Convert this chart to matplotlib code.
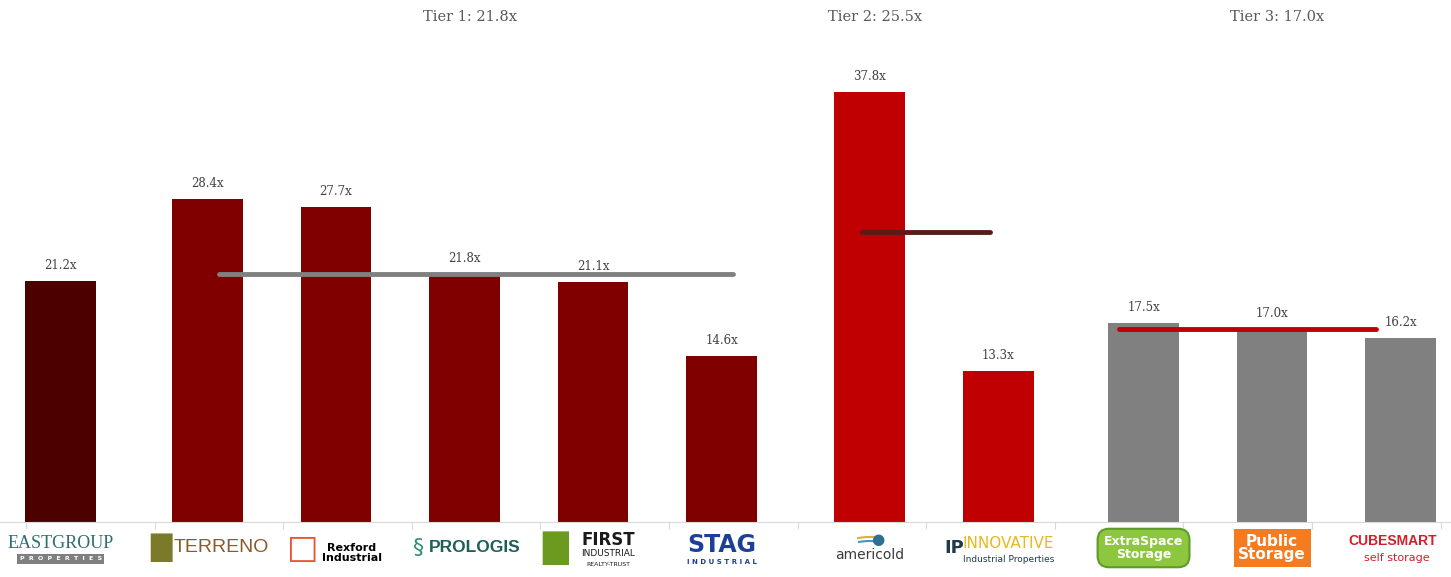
"""P/FFO multiples by peer tier, logos replaced by styled text."""

import matplotlib

matplotlib.use("Agg")
import matplotlib.pyplot as plt
import matplotlib.transforms as mtransforms
from matplotlib.patches import Arc

# --- data -------------------------------------------------------------
companies = [
    "EastGroup", "Terreno", "Rexford", "Prologis", "First Industrial", "STAG",
    "Americold", "Innovative", "Extra Space", "Public Storage", "CubeSmart",
]
multiples = [21.2, 28.4, 27.7, 21.8, 21.1, 14.6, 37.8, 13.3, 17.5, 17.0, 16.2]
# 0 = subject (EastGroup), 1..3 = peer tiers
tier_of = [0, 1, 1, 1, 1, 1, 2, 2, 3, 3, 3]
tier_names = ["Tier 1", "Tier 2", "Tier 3"]
tier_avgs = [21.8, 25.5, 17.0]

# --- style ------------------------------------------------------------
BAR_COLORS = {0: "#4d0000", 1: "#800000", 2: "#c00000", 3: "#808080"}
AVG_COLORS = {1: "#808080", 2: "#5a1a1a", 3: "#c00000"}
SERIES_OFFSET = {0: -0.23, 1: -0.09, 2: 0.06, 3: 0.19}
SERIF = "DejaVu Serif"

W, H = 1451, 577
fig = plt.figure(figsize=(W / 100, H / 100), dpi=100)
ax = fig.add_axes([0, 55 / H, 1, 522 / H])

cats = list(range(len(companies)))
xpos = [c + SERIES_OFFSET[t] for c, t in zip(cats, tier_of)]
bars = ax.bar(xpos, multiples, width=0.55, color=[BAR_COLORS[t] for t in tier_of], zorder=2)

for x, v in zip(xpos, multiples):
    ax.text(x, v + 0.75, f"{v:.1f}x", ha="center", va="bottom", fontsize=8.5,
            family=SERIF, color="#404040", zorder=4)

# tier average lines, from first to last category centre of each tier
for t, avg in zip([1, 2, 3], tier_avgs):
    members = [c for c, tt in zip(cats, tier_of) if tt == t]
    ax.plot([members[0], members[-1]], [avg, avg], color=AVG_COLORS[t], lw=3.5,
            solid_capstyle="round", zorder=3)

# tier headings, above the middle bar of each tier
for t, (name, avg) in enumerate(zip(tier_names, tier_avgs), start=1):
    members = [c for c, tt in zip(cats, tier_of) if tt == t]
    mid = members[(len(members) - 1) // 2]
    ax.text(xpos[mid] + 0.04, 1.0 - 17 / 522, f"{name}: {avg:.1f}x",
            transform=ax.get_xaxis_transform(), ha="center", va="center",
            fontsize=10.5, family=SERIF, color="#595959")

unit = 128.6
left = -0.5 - 26 / unit
ax.set_xlim(left, left + W / unit)
ax.set_ylim(0, 522 / 11.38)

for s in ["top", "right", "left"]:
    ax.spines[s].set_visible(False)
ax.spines["bottom"].set_color("#d9d9d9")
ax.set_yticks([])
ax.set_xticks([c - 0.5 for c in cats] + [cats[-1] + 0.5])
ax.tick_params(axis="x", length=5, color="#d9d9d9", labelbottom=False)

# --- logo stand-ins -------------------------------------------------------
trans = mtransforms.blended_transform_factory(ax.transData, ax.transAxes)
yl = -26 / 522
px = 1 / 522          # one pixel in axes-fraction units (vertical)
ux = 1 / unit         # one pixel in data units (horizontal)


def logo(i, text, dx=0.0, dy=0.0, **kw):
    opts = dict(ha="center", va="center", transform=trans, clip_on=False)
    opts.update(kw)
    ax.text(xpos[i] + dx * ux, yl + dy * px, text, **opts)


# EastGroup
logo(0, "EASTGROUP", dy=4, fontsize=13, color="#2e6e6e", family="Liberation Serif")
logo(0, "P  R  O  P  E  R  T  I  E  S", dy=-11, fontsize=4.5, color="white",
     fontweight="bold", bbox=dict(boxstyle="square,pad=0.35", fc="#7f7f7f", ec="none"))
# Terreno
logo(1, "█", dx=-46, fontsize=20, color="#7a7a2a")
logo(1, "TERRENO", dx=14, fontsize=14, color="#8a5a2b", family="Liberation Sans")
# Rexford
logo(2, "□", dx=-33, fontsize=24, color="#e8552f")
logo(2, "Rexford\nIndustrial", dx=16, dy=-5, fontsize=8, color="black", fontweight="bold",
     linespacing=1.0, ha="center")
# Prologis
logo(3, "§", dx=-46, fontsize=16, color="#2f8f6f")
logo(3, "PROLOGIS", dx=10, fontsize=12.5, color="#1f5f5a", family="Liberation Sans",
     fontweight="bold")
# First Industrial
logo(4, "█", dx=-38, fontsize=24, color="#6a9a20")
logo(4, "FIRST", dx=15, dy=8, fontsize=12, color="#1a1a1a", fontweight="bold")
logo(4, "INDUSTRIAL", dx=15, dy=-6, fontsize=6.5, color="#1a1a1a")
logo(4, "REALTY-TRUST", dx=15, dy=-17, fontsize=4.5, color="#1a1a1a")
# STAG
logo(5, "STAG", dy=3, fontsize=17, color="#1d3f95", fontweight="heavy")
logo(5, "I N D U S T R I A L", dy=-14, fontsize=5, color="#1d3f95", fontweight="bold")
# Americold: swoosh + globe dot + wordmark
ax.add_patch(Arc((xpos[6], yl - 14 * px), 80 * ux, 50 * px, theta1=25, theta2=155,
                 transform=trans, color="#e0b030", lw=1.5, clip_on=False))
ax.add_patch(Arc((xpos[6], yl - 16 * px), 74 * ux, 46 * px, theta1=25, theta2=155,
                 transform=trans, color="#3a9ac0", lw=1.5, clip_on=False))
logo(6, "●", dx=8, dy=8, fontsize=11, color="#2f6f8f")
logo(6, "americold", dy=-7, fontsize=10, color="#3a3a3a")
# Innovative
logo(7, "IP", dx=-44, fontsize=13, color="#1f3a4a", fontweight="bold")
logo(7, "INNOVATIVE", dx=10, dy=5, fontsize=11, color="#e8b820")
logo(7, "Industrial Properties", dx=10, dy=-11, fontsize=6.5, color="#1f3a4a")
# Extra Space
logo(8, "ExtraSpace\nStorage", fontsize=9, color="white", fontweight="bold",
     linespacing=1.0,
     bbox=dict(boxstyle="round,pad=0.5,rounding_size=0.9", fc="#8dc63f", ec="#5f9a2a", lw=1.5))
# Public Storage
logo(9, "Public\nStorage", fontsize=11, color="white", fontweight="bold", linespacing=0.9,
     bbox=dict(boxstyle="square,pad=0.3", fc="#f47b20", ec="none"))
# CubeSmart
logo(10, "CUBESMART", dx=-8, dy=7, fontsize=10, color="#d0202a", fontweight="bold",
     family="Liberation Sans")
logo(10, "self storage", dx=-4, dy=-10, fontsize=8, color="#d0202a")

fig.savefig("out.png", dpi=100, facecolor="white")
